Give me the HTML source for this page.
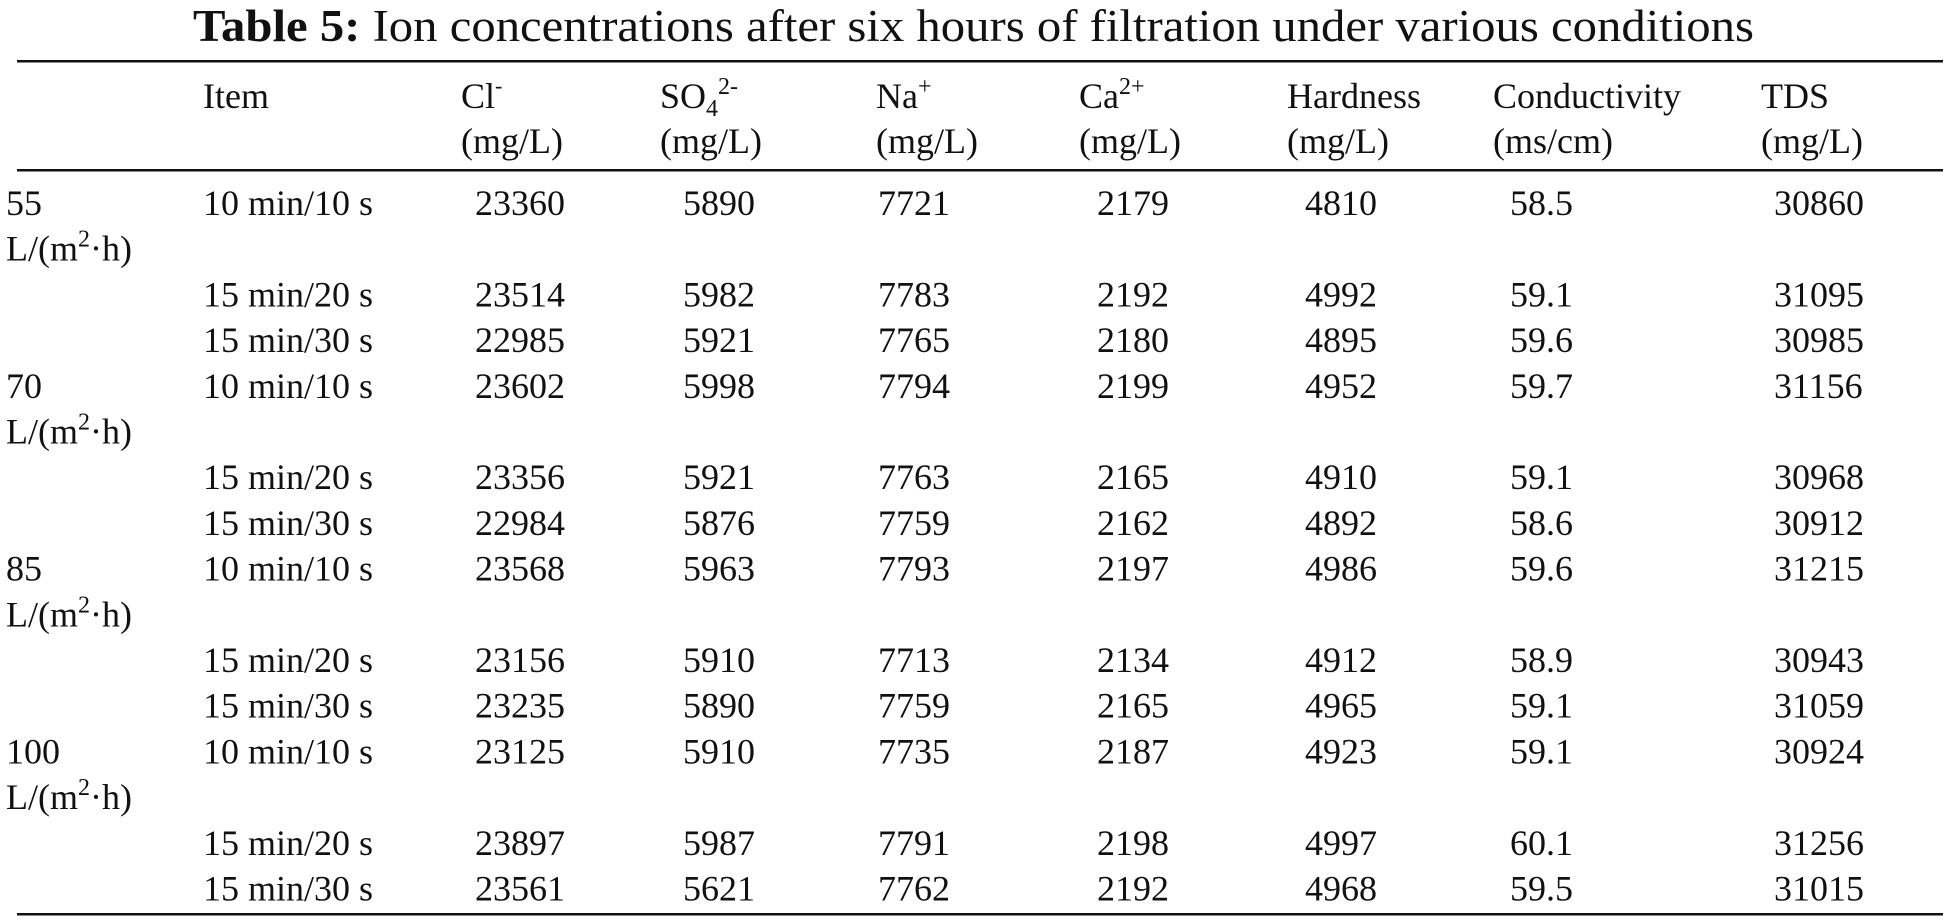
<!DOCTYPE html>
<html><head><meta charset="utf-8"><style>
html,body{margin:0;padding:0;background:#fff;width:1954px;height:921px;overflow:hidden}
svg{display:block}
text{font-family:"Liberation Serif",serif;fill:#111}
</style></head><body>
<svg id="tbl" width="1954" height="921" viewBox="0 0 1954 921">
<text x="193" y="41" font-size="45" textLength="1561" lengthAdjust="spacingAndGlyphs"><tspan font-weight="bold">Table 5:</tspan>  Ion concentrations after six hours of filtration under various conditions</text>
<rect x="17" y="60" width="1926" height="2.5" fill="#111"/>
<rect x="17" y="169" width="1926" height="2.5" fill="#111"/>
<rect x="17" y="913" width="1926" height="2.5" fill="#111"/>
<g font-size="36">
<text x="203" y="108">Item</text>
<text x="461" y="108">Cl<tspan font-size="22" dy="-15">-</tspan></text>
<text x="461" y="153">(mg/L)</text>
<text x="660" y="108">SO<tspan font-size="24" dy="8">4</tspan><tspan font-size="24" dy="-22">2-</tspan></text>
<text x="660" y="153">(mg/L)</text>
<text x="876" y="108">Na<tspan font-size="24" dy="-14">+</tspan></text>
<text x="876" y="153">(mg/L)</text>
<text x="1079" y="108">Ca<tspan font-size="24" dy="-14">2+</tspan></text>
<text x="1079" y="153">(mg/L)</text>
<text x="1287" y="108">Hardness</text>
<text x="1287" y="153">(mg/L)</text>
<text x="1493" y="108">Conductivity</text>
<text x="1493" y="153">(ms/cm)</text>
<text x="1761" y="108">TDS</text>
<text x="1761" y="153">(mg/L)</text>
</g>
<g id="body" font-size="36"></g>
</svg>
<script>
const fluxes = ["55", "70", "85", "100"];
const items = ["10 min/10 s", "15 min/20 s", "15 min/30 s"];
const cl = [23360,23514,22985,23602,23356,22984,23568,23156,23235,23125,23897,23561];
const so4 = [5890,5982,5921,5998,5921,5876,5963,5910,5890,5910,5987,5621];
const na = [7721,7783,7765,7794,7763,7759,7793,7713,7759,7735,7791,7762];
const ca = [2179,2192,2180,2199,2165,2162,2197,2134,2165,2187,2198,2192];
const hardness = [4810,4992,4895,4952,4910,4892,4986,4912,4965,4923,4997,4968];
const conductivity = ["58.5","59.1","59.6","59.7","59.1","58.6","59.6","58.9","59.1","59.1","60.1","59.5"];
const tds = [30860,31095,30985,31156,30968,30912,31215,30943,31059,30924,31256,31015];

const NS = "http://www.w3.org/2000/svg";
const body = document.getElementById("body");
const firstY = 215, pitch = 45.7;
const cols = [
  {arr: cl, x: 475, n: "cl"},
  {arr: so4, x: 683, n: "so4"},
  {arr: na, x: 878, n: "na"},
  {arr: ca, x: 1097, n: "ca"},
  {arr: hardness, x: 1305, n: "hardness"},
  {arr: conductivity, x: 1510, n: "conductivity"},
  {arr: tds, x: 1774, n: "tds"}
];
function lineY(i){ return firstY + i * pitch; }
fluxes.forEach((f, g) => {
  const base = g * 4;
  const t1 = document.createElementNS(NS, "text");
  t1.setAttribute("x", 6);
  t1.setAttribute("y", lineY(base));
  t1.textContent = f;
  
  
  body.appendChild(t1);
  const t2 = document.createElementNS(NS, "text");
  t2.setAttribute("x", 6);
  t2.setAttribute("y", lineY(base + 1));
  t2.innerHTML = 'L/(m<tspan font-size="24" dy="-14">2</tspan><tspan dy="14">·h)</tspan>';
  
  
  body.appendChild(t2);
  items.forEach((it, k) => {
    const r = g * 3 + k;
    const line = k === 0 ? base : base + 1 + k;
    const y = lineY(line);
    const ti = document.createElementNS(NS, "text");
    ti.setAttribute("x", 203);
    ti.setAttribute("y", y);
    ti.textContent = it;
    
    
    body.appendChild(ti);
    cols.forEach(c => {
      const tc = document.createElementNS(NS, "text");
      tc.setAttribute("x", c.x);
      tc.setAttribute("y", y);
      tc.textContent = String(c.arr[r]);
      
      
      body.appendChild(tc);
    });
  });
});
</script>
</body></html>
